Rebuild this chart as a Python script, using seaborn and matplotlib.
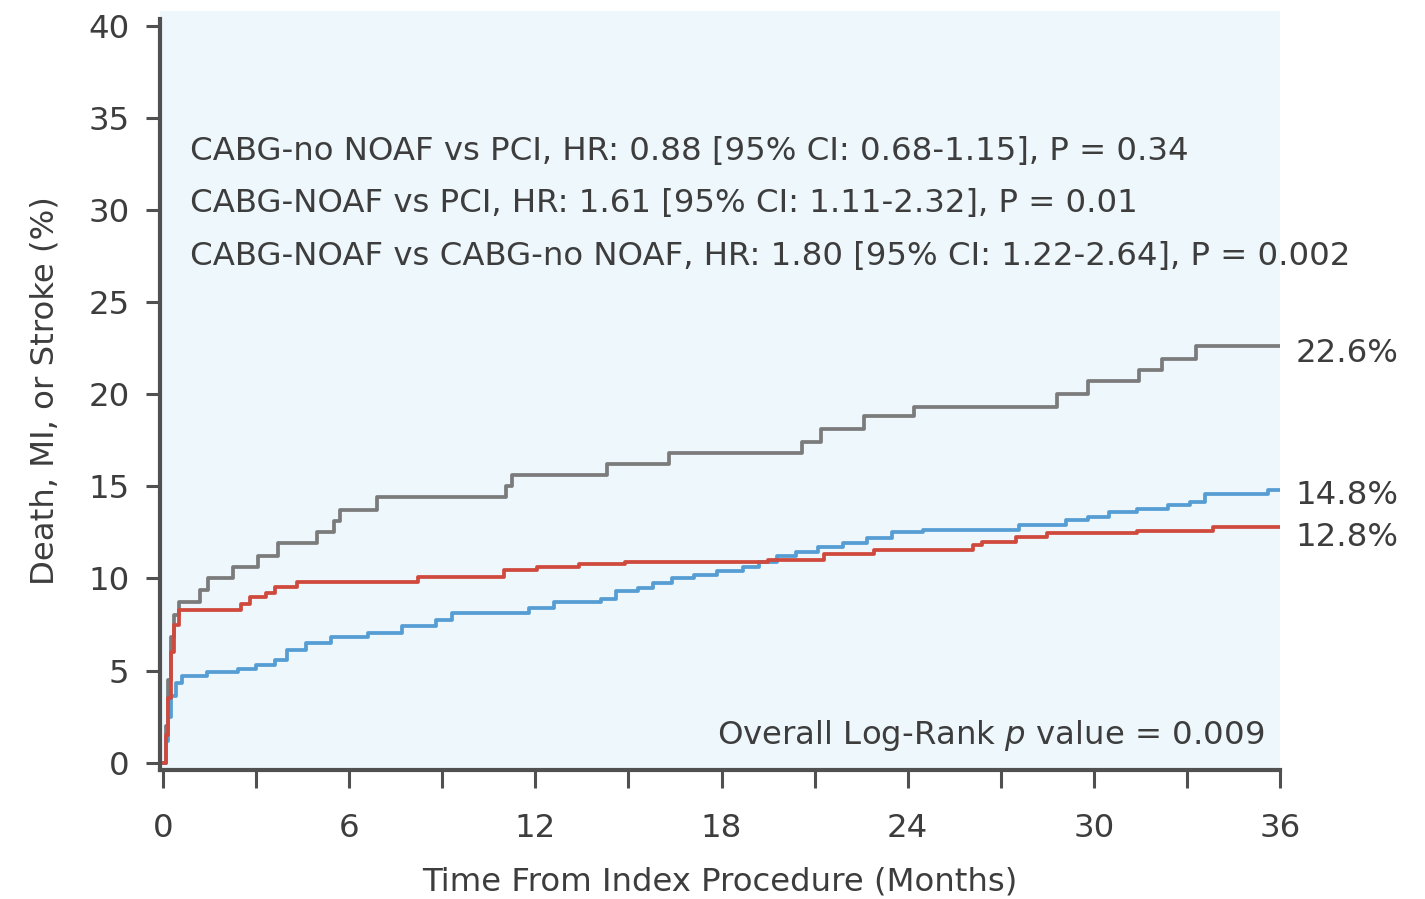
import matplotlib
matplotlib.use("Agg")
import matplotlib.pyplot as plt
import seaborn as sns
import pandas as pd

# Kaplan-Meier style cumulative incidence (%) by month, step points
noaf_t = [0, 0.08, 0.16, 0.25, 0.35, 0.5, 1.2, 1.45, 2.26, 3.07, 3.7, 4.97, 5.5, 5.7,
          6.9, 11.05, 11.25, 14.3, 16.3, 20.6, 21.2, 22.6, 24.2, 28.8, 29.8, 31.45,
          32.2, 33.3, 36]
noaf_y = [0, 2.0, 4.5, 6.8, 8.0, 8.7, 9.4, 10.0, 10.6, 11.2, 11.9, 12.5, 13.1, 13.7,
          14.4, 15.0, 15.6, 16.2, 16.8, 17.4, 18.1, 18.8, 19.3, 20.0, 20.7, 21.3,
          21.9, 22.6, 22.6]

no_noaf_t = [0, 0.08, 0.16, 0.25, 0.35, 0.5, 2.5, 2.8, 3.3, 3.6, 4.3, 8.2, 11.0, 12.05,
             13.4, 14.9, 19.5, 21.3, 22.9, 26.1, 26.4, 27.5, 28.5, 31.4, 33.85, 36]
no_noaf_y = [0, 1.5, 3.5, 6.0, 7.5, 8.3, 8.6, 9.0, 9.2, 9.55, 9.8, 10.1, 10.45, 10.6,
             10.8, 10.9, 11.0, 11.35, 11.55, 11.8, 12.0, 12.25, 12.45, 12.6, 12.8, 12.8]

pci_t = [0, 0.08, 0.16, 0.25, 0.4, 0.6, 1.4, 2.4, 3.0, 3.6, 4.0, 4.6, 5.4, 6.6, 7.7,
         8.8, 9.3, 11.8, 12.6, 14.1, 14.6, 15.3, 15.8, 16.4, 17.1, 17.85, 18.7, 19.2,
         19.8, 20.4, 21.1, 21.9, 22.7, 23.5, 24.5, 27.6, 29.1, 29.8, 30.5, 31.4, 32.4,
         33.1, 33.6, 35.6, 36]
pci_y = [0, 1.2, 2.5, 3.6, 4.3, 4.7, 4.9, 5.1, 5.3, 5.6, 6.1, 6.5, 6.8, 7.05, 7.4,
         7.75, 8.1, 8.4, 8.7, 8.9, 9.3, 9.5, 9.75, 10.0, 10.2, 10.4, 10.65, 10.9,
         11.2, 11.45, 11.7, 11.9, 12.2, 12.55, 12.65, 12.9, 13.2, 13.35, 13.6, 13.8,
         14.0, 14.15, 14.6, 14.8, 14.8]

groups = ["CABG-NOAF", "PCI", "CABG-no NOAF"]
colors = {"CABG-NOAF": "#7b7b7b", "PCI": "#559dd3", "CABG-no NOAF": "#d0493d"}
end_values = [22.6, 14.8, 12.8]
end_label_offsets = [-0.4, -0.3, -0.6]

hr_lines = [
    "CABG-no NOAF vs PCI, HR: 0.88 [95% CI: 0.68-1.15], P = 0.34",
    "CABG-NOAF vs PCI, HR: 1.61 [95% CI: 1.11-2.32], P = 0.01",
    "CABG-NOAF vs CABG-no NOAF, HR: 1.80 [95% CI: 1.22-2.64], P = 0.002",
]
x_ticks = list(range(0, 37, 3))
x_ticklabels = [str(t) if t % 6 == 0 else "" for t in x_ticks]
y_ticks = list(range(0, 41, 5))

df = pd.concat([
    pd.DataFrame({"month": noaf_t, "pct": noaf_y, "group": "CABG-NOAF"}),
    pd.DataFrame({"month": pci_t, "pct": pci_y, "group": "PCI"}),
    pd.DataFrame({"month": no_noaf_t, "pct": no_noaf_y, "group": "CABG-no NOAF"}),
], ignore_index=True)

sns.set_style("ticks")
plt.rcParams["font.family"] = ["DejaVu Sans"]
text_c = "#3d3d3d"
axis_c = "#505050"
fs = 23.3

fig = plt.figure(figsize=(14.25, 8.99), dpi=100)
ax = fig.add_axes([0.1123, 0.1435, 0.7859, 0.8439])
ax.set_facecolor("#eef7fc")

sns.lineplot(data=df, x="month", y="pct", hue="group", hue_order=groups,
             palette=colors, estimator=None, drawstyle="steps-post",
             linewidth=2.7, legend=False, ax=ax)

ax.set_xlim(-0.1, 36)
ax.set_ylim(-0.4, 40.8)
ax.set_xticks(x_ticks)
ax.set_xticklabels(x_ticklabels)
ax.set_yticks(y_ticks)

for side in ("top", "right"):
    ax.spines[side].set_visible(False)
for side in ("left", "bottom"):
    ax.spines[side].set_color(axis_c)
    ax.spines[side].set_linewidth(3)
ax.spines["left"].set_bounds(-0.4, 40.4)

ax.tick_params(axis="x", length=13, width=2.2, color=axis_c, pad=18,
               labelsize=fs, labelcolor=text_c)
ax.tick_params(axis="y", length=10, width=2.2, color=axis_c, pad=12,
               labelsize=fs, labelcolor=text_c)

ax.set_xlabel("Time From Index Procedure (Months)", fontsize=fs, color=text_c, labelpad=16)
ax.set_ylabel("Death, MI, or Stroke (%)", fontsize=fs, color=text_c, labelpad=20)

for i, line in enumerate(hr_lines):
    ax.text(0.87, 33.2 - 2.85 * i, line, fontsize=fs, color=text_c, va="center", ha="left")

ax.text(35.5, 1.5, r"Overall Log-Rank $\mathit{p}$ value = 0.009", fontsize=fs,
        color=text_c, va="center", ha="right")

for g, v, off in zip(groups, end_values, end_label_offsets):
    ax.text(36.5, v + off, f"{v:.1f}%", fontsize=fs, color=text_c,
            va="center", ha="left", clip_on=False)

fig.savefig("out.png", dpi=100, facecolor="white")
